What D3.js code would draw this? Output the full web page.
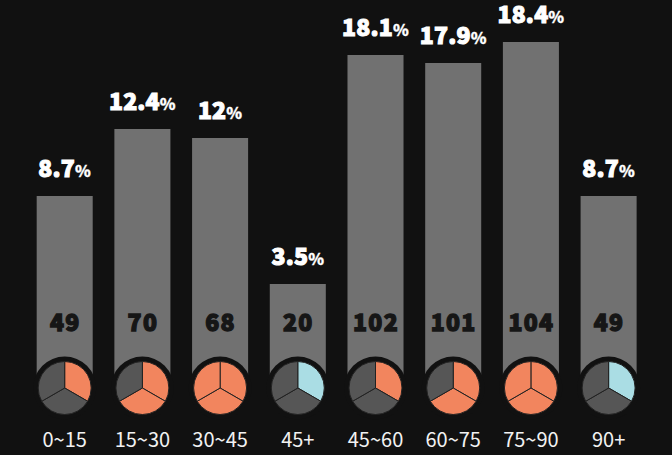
<!DOCTYPE html>
<html><head><meta charset="utf-8">
<script src="https://cdn.jsdelivr.net/npm/d3@7"></script>
<style>html,body{margin:0;padding:0;background:#111}svg{display:block}</style></head><body>
<svg id="c" width="672" height="455"></svg>
<script>
const categories = ["0~15","15~30","30~45","45+","45~60","60~75","75~90","90+"];
const percents = ["8.7","12.4","12","3.5","18.1","17.9","18.4","8.7"];
const counts = [49,70,68,20,102,101,104,49];
// bar lengths (they are not strictly proportional to the labels)
const barLengths = [176,243,234,88,317,309,330,176];
const filledSlices = [1,2,3,1,1,2,3,1];
const sliceColors = ["#f2855e","#f2855e","#f2855e","#aadde4","#f2855e","#f2855e","#f2855e","#aadde4"];

const svg = d3.select("#c");
const W=672,H=455;
svg.append("rect").attr("width",W).attr("height",H).attr("fill","#111");
const x = d3.scaleBand().domain(categories).range([25.8,647.5]).paddingInner(0.279).paddingOuter(0.14);
const base = 372;
const y = d3.scaleLinear().domain([0,330]).range([base,42]);
const g = svg.selectAll("g.col").data(categories).join("g").attr("class","col");
const cx = c=>x(c)+x.bandwidth()/2;
const cy = 388;
const font = "'Noto Sans CJK KR','Noto Sans',sans-serif";

g.append("rect").attr("x",c=>x(c)).attr("width",x.bandwidth())
 .attr("y",(c,i)=>y(barLengths[i])).attr("height",(c,i)=>base+15-y(barLengths[i])).attr("fill","#717171");
g.append("circle").attr("cx",cx).attr("cy",cy).attr("r",31.5).attr("fill","#111");

const pie = d3.pie().sort(null).value(1);
const arc = d3.arc().innerRadius(0).outerRadius(26.5);
g.each(function(c,i){
  const p = d3.select(this).append("g").attr("transform",`translate(${cx(c)},${cy})`);
  p.selectAll("path").data(pie([0,1,2])).join("path").attr("d",arc)
   .attr("fill",(d,k)=>k<filledSlices[i]?sliceColors[i]:"#565656")
   .attr("stroke","#222").attr("stroke-width",1);
});
const heavy = s=>s.attr("font-family",font).attr("font-weight",900).attr("text-anchor","middle");
g.append("text").call(heavy).attr("x",c=>cx(c)+0.5).attr("y",331).attr("font-size",23).attr("letter-spacing",1.3)
 .attr("fill","#161616").attr("stroke","#161616").attr("stroke-width",1.3).text((c,i)=>counts[i]);
const t = g.append("text").call(heavy).attr("x",cx).attr("y",(c,i)=>y(barLengths[i])-19)
 .attr("fill","#fff").attr("stroke","#fff").attr("stroke-width",1.1).attr("letter-spacing",0.2);
t.append("tspan").attr("font-size",23).text((c,i)=>percents[i]);
t.append("tspan").attr("font-size",16).attr("stroke-width",0.3).text("%");
g.append("text").attr("x",cx).attr("y",447).attr("text-anchor","middle").attr("font-family",font)
 .attr("font-size",20).attr("fill","#f2f2f2").text(c=>c);
</script></body></html>
